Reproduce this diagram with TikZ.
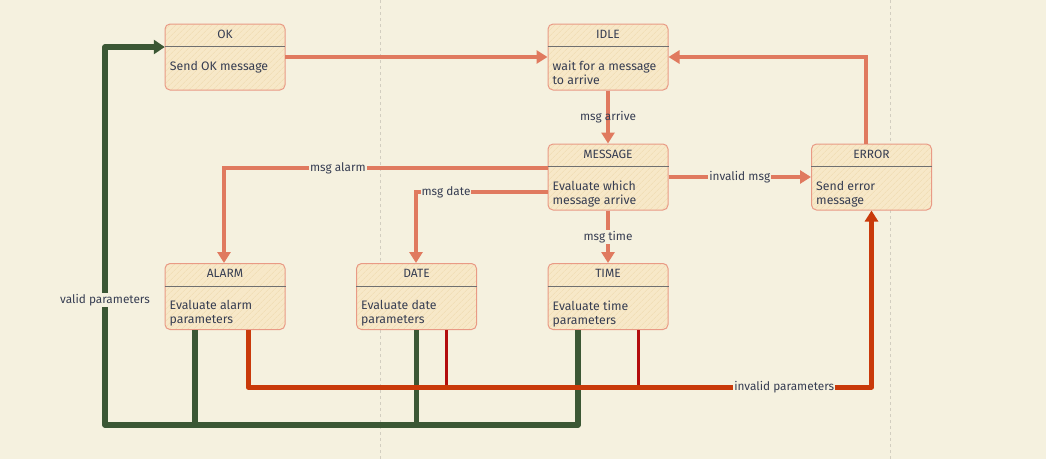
\documentclass[tikz,border=0pt]{standalone}
\usepackage{fontspec}
\setmainfont{Fira Sans}
\usetikzlibrary{arrows.meta,patterns.meta}
\definecolor{bgc}{HTML}{F5F1DF}
\definecolor{salc}{HTML}{E07A5F}
\definecolor{boxline}{HTML}{E99A85}
\definecolor{boxfill}{HTML}{F7E8C8}
\definecolor{hatch}{HTML}{EFD9AE}
\definecolor{grnc}{HTML}{3B5734}
\definecolor{orc}{HTML}{C93A0A}
\definecolor{drc}{HTML}{B30D0D}
\definecolor{txtc}{HTML}{363D52}
\definecolor{divc}{HTML}{707070}
\definecolor{gridc}{HTML}{D2CEC0}
\newcommand\statebox[5]{%
  \node[statebox] (#1) at (#2,#3) {};
  \draw[divline] ([yshift=-23pt]#1.north west) -- ([yshift=-23pt]#1.north east);
  \node[titletext] (#1-t) at ([yshift=-10.5pt]#1.north) {#4};
  \node[bodytext] (#1-b) at ([xshift=4pt,yshift=-36.5pt]#1.north west) {#5};
}
\begin{document}
\begin{tikzpicture}[x=1pt,y=-1pt,
  statebox/.style={draw=boxline, line width=1pt, rounded corners=5pt,
    minimum width=120pt, minimum height=66pt, inner sep=0pt,
    preaction={fill=boxfill},
    pattern={Lines[angle=45,distance=4pt,line width=0.5pt]}, pattern color=hatch},
  divline/.style={draw=divc, line width=0.9pt},
  titletext/.style={text=txtc, font=\fontsize{12}{13}\selectfont, inner sep=0pt},
  bodytext/.style={text=txtc, font=\fontsize{12.3}{14}\selectfont, align=left, anchor=north west, inner sep=1pt},
  lbl/.style={text=txtc, font=\fontsize{11.8}{13}\selectfont, fill=bgc, inner sep=1pt},
  lblnf/.style={text=txtc, font=\fontsize{11.8}{13}\selectfont, inner sep=1pt},
  sal/.style={draw=salc, line width=4pt, -{Triangle[length=11pt,width=13pt]}},
  grn/.style={draw=grnc, line width=5.5pt},
  orr/.style={draw=orc, line width=5pt},
  drr/.style={draw=drc, line width=3pt},
  gridline/.style={draw=gridc, line width=0.6pt, dash pattern=on 3pt off 3pt}
]
\fill[bgc] (0,0) rectangle (1046,459);
\useasboundingbox (0,0) rectangle (1046,459);
\draw[gridline] (380,0) -- (380,459);
\draw[gridline] (890,0) -- (890,459);

\statebox{ok}{225}{57}{OK}{Send OK message}
\statebox{idle}{608}{57}{IDLE}{wait for a message\\to arrive}
\statebox{msg}{608}{177}{MESSAGE}{Evaluate which\\message arrive}
\statebox{err}{871.5}{177}{ERROR}{Send error\\message}
\statebox{alarm}{225}{296.5}{ALARM}{Evaluate alarm\\parameters}
\statebox{date}{416.5}{296.5}{DATE}{Evaluate date\\parameters}
\statebox{time}{608}{296.5}{TIME}{Evaluate time\\parameters}

% salmon transitions
\draw[sal] (ok.east) -- (idle.west);
\draw[sal] ([xshift=-6pt]err.north) |- (idle.east);
\draw[sal] (idle.south) -- node[lblnf]{msg arrive} (msg.north);
\draw[sal] ([yshift=9pt]msg.west) -| node[lbl,pos=0.324]{msg alarm} ([xshift=-1pt]alarm.north);
\draw[sal] ([yshift=-15pt]msg.west) -| node[lbl,pos=0.386]{msg date} ([xshift=-0.5pt]date.north);
\draw[sal] (msg.south) -- node[lbl]{msg time} (time.north);
\draw[sal] (msg.east) -- node[lbl,pos=0.5]{invalid msg} (err.west);

% green: valid parameters
\coordinate (gc) at (105,425);
\draw[grn, line join=round, -{Triangle[length=11pt,width=14pt]}]
  ([xshift=-30pt]time.south) |- (gc) |- node[lbl,pos=0.165]{valid parameters} ([yshift=10pt]ok.west);
\draw[grn] ([xshift=-30pt]alarm.south) -- ([xshift=-30pt]alarm.south |- gc);
\draw[grn] (date.south) -- (date.south |- gc);

% red: invalid parameters
\coordinate (rc) at (248,387);
\draw[drr] ([xshift=30pt]date.south) -- ([xshift=30pt]date.south |- rc);
\draw[drr] ([xshift=30pt]time.south) -- ([xshift=30pt]time.south |- rc);
\draw[orr, line join=round, -{Triangle[length=11pt,width=13pt]}]
  ([xshift=23pt]alarm.south) -- (rc) -| node[lbl,pos=0.43]{invalid parameters} (err.south);
\end{tikzpicture}
\end{document}
